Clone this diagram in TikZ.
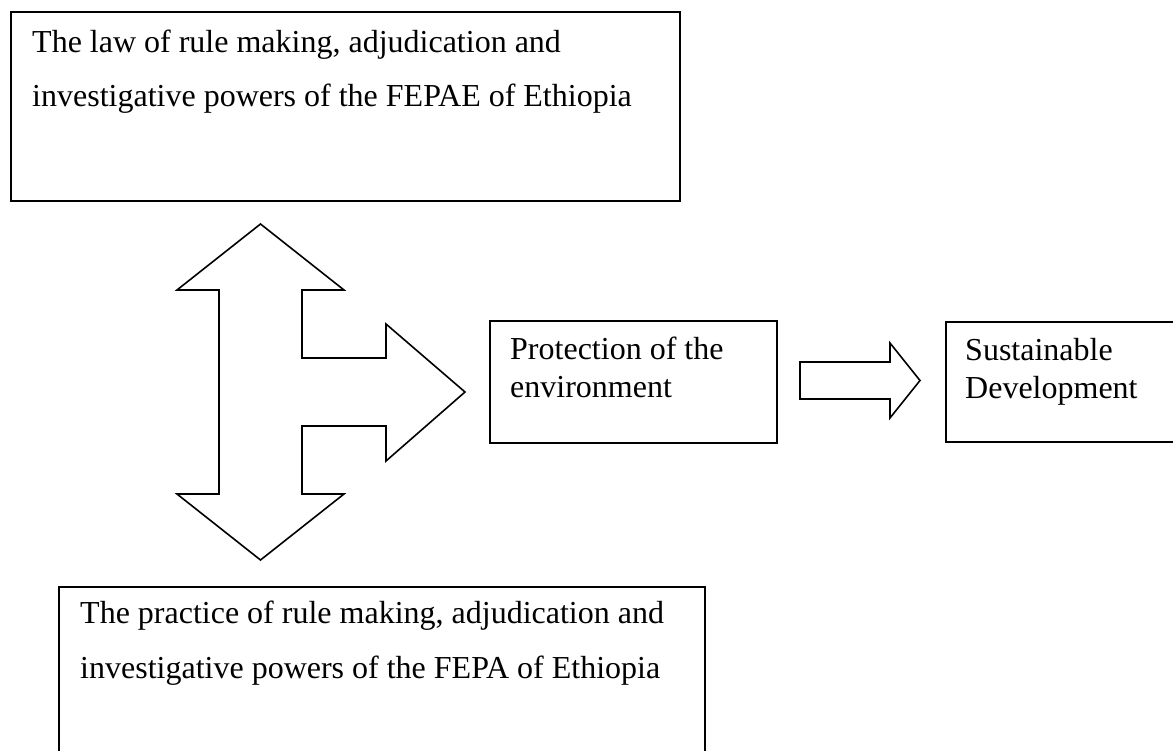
\documentclass[tikz,border=0pt]{standalone}
\usepackage{fontspec}
\setmainfont{Liberation Serif}
\usetikzlibrary{positioning,calc}

\begin{document}
\begin{tikzpicture}[x=1pt,y=-1pt,
            box/.style={draw,line width=1.6pt,rectangle,inner sep=0pt,anchor=north west},
            txt/.style={anchor=base west,align=left,inner sep=0pt,font=\fontsize{32}{37.5}\selectfont},
            widetxt/.style={txt,font=\fontsize{32}{54.5}\selectfont},
            blockarrow/.style={draw,line width=1.6pt,line join=miter}
        ]
            \clip (0,0) rectangle (1173,751);
            \fill[white] (0,0) rectangle (1173,751);

            % the four boxes
            \node[box,minimum width=669pt,minimum height=189pt] (law) at (10,11) {};
            \node[box,minimum width=646pt,minimum height=200pt] (practice) at (58,586) {};
            \node[box,minimum width=287pt,minimum height=122pt] (protection) at (489,320) {};
            \node[box,minimum width=240pt,minimum height=120pt] (sustain) at (945,321) {};

            % texts, placed by the baseline of their last line
            \node[widetxt] (lawtext) at ($(law.north west)+(22,96)$)
                {The law of rule making, adjudication and\\investigative powers of the FEPAE of Ethiopia};
            \node[widetxt] (practicetext) at ($(practice.north west)+(22,92)$)
                {The practice of rule making, adjudication and\\investigative powers of the FEPA of Ethiopia};
            \node[txt] (protectiontext) at ($(protection.north west)+(21,77)$)
                {Protection of the\\environment};
            \node[txt] (sustaintext) at ($(sustain.north west)+(20,77)$)
                {Sustainable\\Development};

            % up/down arrow with a branch to the right
            \draw[blockarrow] (260.5,224) -- (344,290) -- (302,290) -- (302,358) -- (386,358)
                -- (386,324) -- (465,392) -- (386,461) -- (386,426) -- (302,426) -- (302,494)
                -- (344,494) -- (260.5,560) -- (177,494) -- (219,494) -- (219,290) -- (177,290) -- cycle;

            % small arrow
            \draw[blockarrow] (800,362) -- (890,362) -- (890,343) -- (920,380.5) -- (890,418)
                -- (890,399) -- (800,399) -- cycle;
        \end{tikzpicture}
\end{document}
